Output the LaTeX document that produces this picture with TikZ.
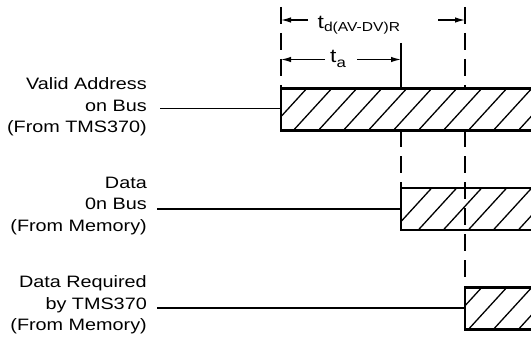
\documentclass[tikz,border=0pt]{standalone}
\usepackage{fontspec}
\setmainfont[FakeStretch=1.2]{Liberation Sans}
\usetikzlibrary{arrows.meta}

\begin{document}
\begin{tikzpicture}[x=1pt,y=-1pt,>={Latex[length=10pt,width=5.5pt]},
  lbl/.style={align=right,anchor=east,inner sep=0pt,font=\fontsize{16.5}{21.5}\selectfont},
  sig/.style={line width=1.8pt},
  bx/.style={line width=2.2pt},
  tick/.style={line width=1.3pt},
  dtick/.style={tick,dash pattern=on 17pt off 9pt}]
  \useasboundingbox (0,0) rectangle (531,342);
  % signal names
  \node[lbl] (addr) at (147,107) {Valid Address\\on Bus\\(From TMS370)};
  \node[lbl] (data) at (147,206) {Data\\0n Bus\\(From Memory)};
  \node[lbl] (req)  at (147,305) {Data Required\\by TMS370\\(From Memory)};
  % left edges of the hatched boxes
  \coordinate (addrbox) at (281,108.5);
  \coordinate (databox) at (401,209.3);
  \coordinate (reqbox)  at (465,308);
  \draw[sig] ([xshift=13pt]addr.east |- addrbox) -- (addrbox);
  \draw[sig] ([xshift=10pt]data.east |- databox) -- (databox);
  \draw[sig] ([xshift=10pt]req.east |- reqbox) -- (reqbox);
  % hatched boxes, open to the right
  \foreach \x/\top/\ph in {281/88.5/268.3, 401/188/393.3, 465/287.5/443.3} {
    \begin{scope}
      \clip (\x,\top) rectangle (531,\top+42);
      \foreach \k in {0,...,11}
        \draw[line width=1.3pt] ({\ph+25*\k},\top+42) -- ++(38.4,-42);
    \end{scope}
    \draw[bx] (531,\top) -- (\x,\top) -- (\x,\top+42) -- (531,\top+42);
  }
  % timing marks
  \draw[dtick] (281,7) -- (addrbox |- 0,88.5);
  \draw[tick] (401,43) -- (401,88.5);
  \draw[dtick] (465,7) -- (465,88.5);
  \draw[dtick] (401,130.5) -- (401,188);
  \draw[dtick] (465,130.5) -- (465,287.5);
  % t_d(AV-DV)R
  \node[anchor=base west,inner sep=0pt] (td) at (317.5,28.3)
    {\fontsize{19}{19}\selectfont t\raisebox{-3.4pt}{\fontsize{13}{13}\selectfont d(AV-DV)R}};
  \draw[->,tick] (308,20) -- (281,20);
  \draw[->,tick] (438,20) -- (465,20);
  % t_a
  \node[anchor=base west,inner sep=0pt] (ta) at (330,63)
    {\fontsize{19}{19}\selectfont t\raisebox{-5pt}{\fontsize{14}{14}\selectfont a}};
  \draw[->,tick] (325,59.5) -- (281,59.5);
  \draw[->,tick] (357,59.5) -- (401,59.5);
\end{tikzpicture}
\end{document}
